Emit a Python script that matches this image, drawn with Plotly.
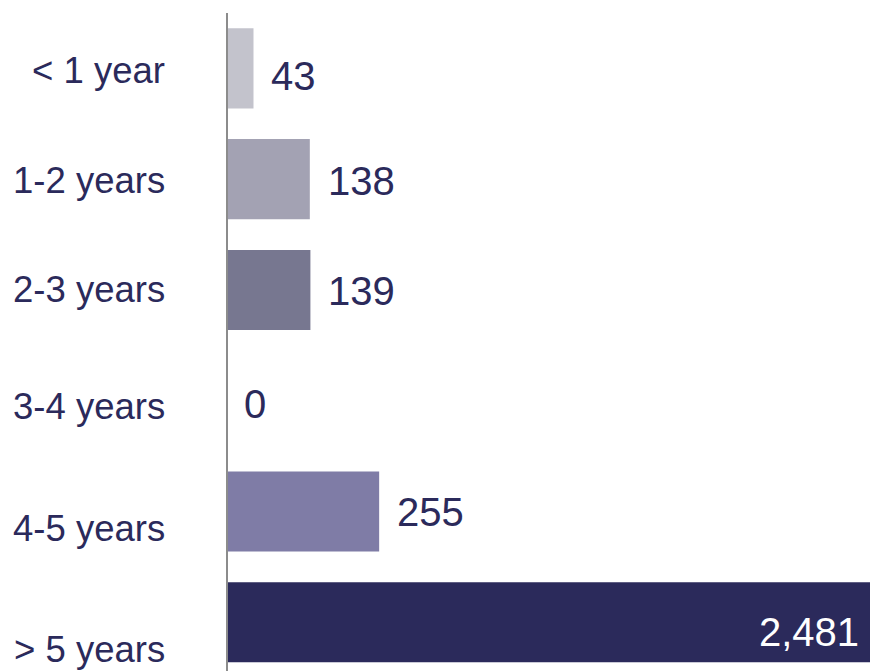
import plotly.graph_objects as go

categories = ["< 1 year", "1-2 years", "2-3 years", "3-4 years", "4-5 years", "> 5 years"]
values = [43, 138, 139, 0, 255, 2481]
bar_colors = ["#c3c3cc", "#a3a2b3", "#777790", "#c3c3cc", "#7f7ca6", "#2b2a5b"]

NAVY = "#2b2a5b"
X_MAX = 1083

# small vertical nudges so the labels sit where the original text boxes do
label_nudge = [-2, -1.5, 0, -6, -17, -27]
value_nudge = [-8, -2, -1, -3.5, -1, -10]

fig = go.Figure()

fig.add_trace(
    go.Bar(
        x=values,
        y=categories,
        orientation="h",
        marker=dict(color=bar_colors, line=dict(width=0)),
        hoverinfo="skip",
        showlegend=False,
    )
)

annotations = []
for i, (cat, val) in enumerate(zip(categories, values)):
    # category label on the left
    annotations.append(
        dict(
            x=0,
            xref="paper",
            y=cat,
            yref="y",
            text=cat,
            showarrow=False,
            xanchor="right",
            yanchor="middle",
            xshift=-61,
            yshift=label_nudge[i],
            font=dict(size=36.5, color=NAVY, family="Arial, Liberation Sans"),
        )
    )
    # value label
    if val > X_MAX:
        annotations.append(
            dict(
                x=1,
                xref="paper",
                y=cat,
                yref="y",
                text=f"{val:,}",
                showarrow=False,
                xanchor="right",
                yanchor="middle",
                xshift=-9,
                yshift=value_nudge[i],
                font=dict(size=40, color="white", family="Arial, Liberation Sans"),
            )
        )
    else:
        annotations.append(
            dict(
                x=val,
                xref="x",
                y=cat,
                yref="y",
                text=f"{val:,}",
                showarrow=False,
                xanchor="left",
                yanchor="middle",
                xshift=16 if val else 14,
                yshift=value_nudge[i],
                font=dict(size=40, color=NAVY, family="Arial, Liberation Sans"),
            )
        )

fig.update_layout(
    width=870,
    height=671,
    margin=dict(l=228, r=0, t=13, b=0),
    plot_bgcolor="white",
    paper_bgcolor="white",
    bargap=0.277,
    xaxis=dict(range=[0, X_MAX], showgrid=False, zeroline=False, showticklabels=False, showline=False),
    yaxis=dict(
        type="category",
        categoryorder="array",
        categoryarray=categories,
        range=[5.44, -0.5],
        showgrid=False,
        zeroline=False,
        showticklabels=False,
        showline=True,
        linecolor="#8c8c8c",
        linewidth=1.5,
    ),
    annotations=annotations,
)

fig.write_html(
    "out.html",
    config={"displayModeBar": False},
    post_script="document.body.style.margin='0';document.body.style.overflow='hidden';",
)
